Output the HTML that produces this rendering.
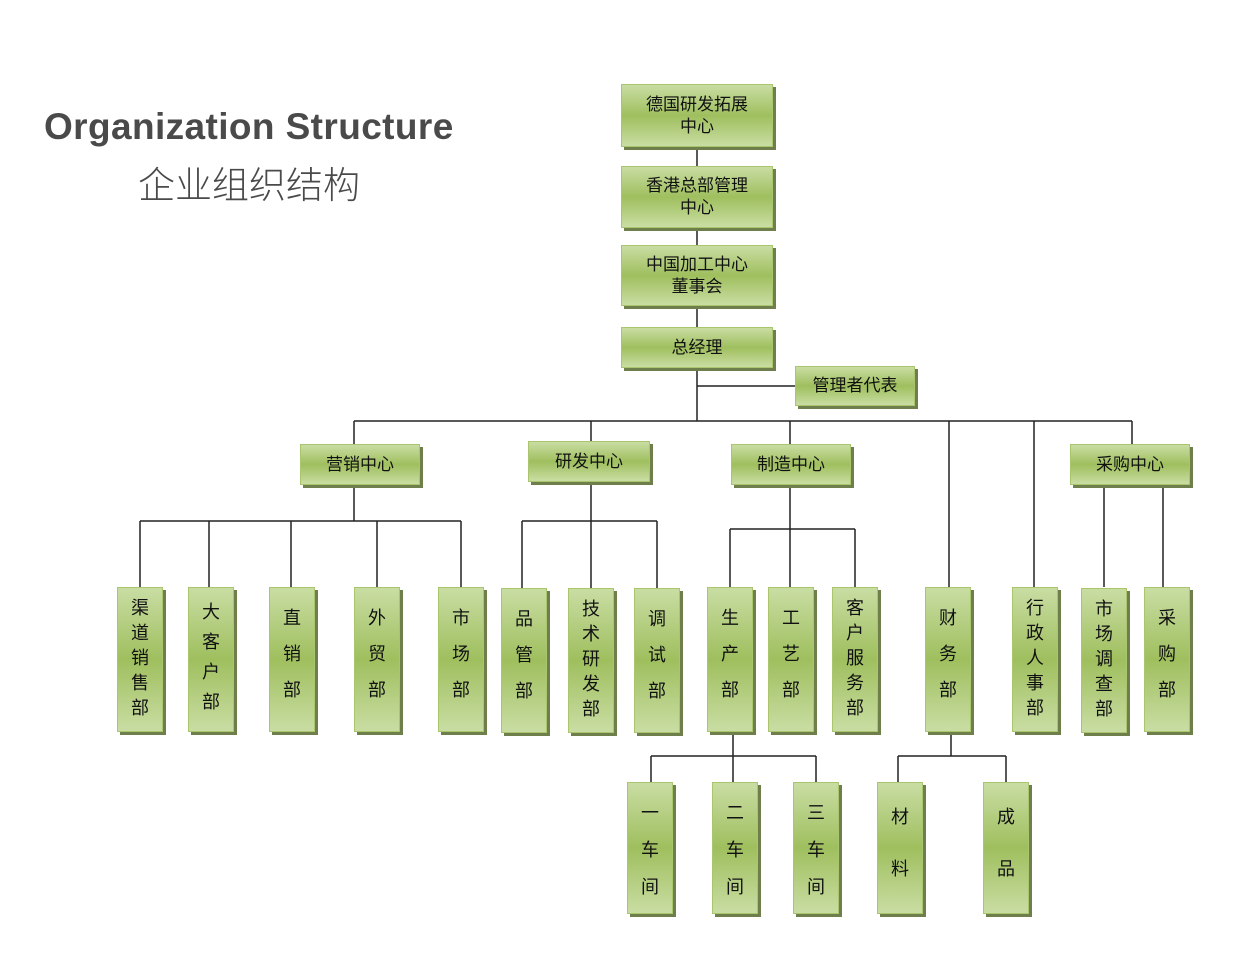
<!DOCTYPE html>
<html><head><meta charset="utf-8"><style>
body{margin:0;background:#fff;}
#c{position:relative;width:1256px;height:970px;overflow:hidden;font-family:"Liberation Sans","Noto Sans CJK SC",sans-serif;}
.b{position:absolute;box-sizing:border-box;background:linear-gradient(#c9dda3,#9fbf5e 50%,#c9dda3);border:1px solid #a9c66e;box-shadow:3px 3px 0 #6f7f4c;color:#111;font-size:17px;display:flex;align-items:center;justify-content:center;text-align:center;line-height:22px;}
.v{flex-direction:column;justify-content:flex-start;font-size:18px;line-height:20px;}
.v3{padding-top:20px;gap:16px;}
.v4{padding-top:14px;gap:10px;}
.v5{padding-top:10px;gap:5px;}
.vb{padding-top:20px;gap:17px;}
.v2{padding-top:24px;gap:32px;}
svg{position:absolute;left:0;top:0;}
.t1{position:absolute;left:44px;top:106px;font-size:37px;font-weight:bold;color:#4a4a4a;font-family:"Liberation Sans",sans-serif;letter-spacing:0.4px;}
.t2{position:absolute;left:138px;top:160px;font-size:37px;color:#4a4a4a;font-family:"Noto Sans CJK SC",sans-serif;font-weight:300;line-height:44px;}
</style></head><body><div id="c">
<div class="t1">Organization Structure</div>
<div class="t2">企业组织结构</div>
<svg width="1256" height="970" stroke="#222" stroke-width="1.5" fill="none">
<path d="M697 147V166M697 228V245M697 306V327M697 368V421M697 386H795"/>
<path d="M354 421H1132M354 421V444M591 421V441M790 421V444M949 421V587M1034 421V587M1132 421V444"/>
<path d="M354 485V521M140 521H461M140 521V587M209 521V587M291 521V587M377 521V587M461 521V587"/>
<path d="M591 482V588M522 521H657M522 521V588M657 521V588"/>
<path d="M790 485V587M730 529H855M730 529V587M855 529V587"/>
<path d="M1104 485V587M1163 485V587"/>
<path d="M733 732V782M651 756H816M651 756V782M816 756V782"/>
<path d="M951 732V756M898 756H1006M898 756V782M1006 756V782"/>
</svg>
<div class="b" style="left:621px;top:84px;width:152px;height:63px">德国研发拓展<br>中心</div>
<div class="b" style="left:621px;top:166px;width:152px;height:62px">香港总部管理<br>中心</div>
<div class="b" style="left:621px;top:245px;width:152px;height:61px">中国加工中心<br>董事会</div>
<div class="b" style="left:621px;top:327px;width:152px;height:41px">总经理</div>
<div class="b" style="left:795px;top:366px;width:120px;height:40px">管理者代表</div>
<div class="b" style="left:300px;top:444px;width:120px;height:41px">营销中心</div>
<div class="b" style="left:528px;top:441px;width:122px;height:41px">研发中心</div>
<div class="b" style="left:731px;top:444px;width:120px;height:41px">制造中心</div>
<div class="b" style="left:1070px;top:444px;width:120px;height:41px">采购中心</div>

<div class="b v v5" style="left:117px;top:587px;width:46px;height:145px"><span>渠</span><span>道</span><span>销</span><span>售</span><span>部</span></div>
<div class="b v v4" style="left:188px;top:587px;width:46px;height:145px"><span>大</span><span>客</span><span>户</span><span>部</span></div>
<div class="b v v3" style="left:269px;top:587px;width:46px;height:145px"><span>直</span><span>销</span><span>部</span></div>
<div class="b v v3" style="left:354px;top:587px;width:46px;height:145px"><span>外</span><span>贸</span><span>部</span></div>
<div class="b v v3" style="left:438px;top:587px;width:46px;height:145px"><span>市</span><span>场</span><span>部</span></div>
<div class="b v v3" style="left:501px;top:588px;width:46px;height:145px"><span>品</span><span>管</span><span>部</span></div>
<div class="b v v5" style="left:568px;top:588px;width:46px;height:145px"><span>技</span><span>术</span><span>研</span><span>发</span><span>部</span></div>
<div class="b v v3" style="left:634px;top:588px;width:46px;height:145px"><span>调</span><span>试</span><span>部</span></div>
<div class="b v v3" style="left:707px;top:587px;width:46px;height:145px"><span>生</span><span>产</span><span>部</span></div>
<div class="b v v3" style="left:768px;top:587px;width:46px;height:145px"><span>工</span><span>艺</span><span>部</span></div>
<div class="b v v5" style="left:832px;top:587px;width:46px;height:145px"><span>客</span><span>户</span><span>服</span><span>务</span><span>部</span></div>
<div class="b v v3" style="left:925px;top:587px;width:46px;height:145px"><span>财</span><span>务</span><span>部</span></div>
<div class="b v v5" style="left:1012px;top:587px;width:46px;height:145px"><span>行</span><span>政</span><span>人</span><span>事</span><span>部</span></div>
<div class="b v v5" style="left:1081px;top:588px;width:46px;height:145px"><span>市</span><span>场</span><span>调</span><span>查</span><span>部</span></div>
<div class="b v v3" style="left:1144px;top:587px;width:46px;height:145px"><span>采</span><span>购</span><span>部</span></div>

<div class="b v vb" style="left:627px;top:782px;width:46px;height:132px"><span>一</span><span>车</span><span>间</span></div>
<div class="b v vb" style="left:712px;top:782px;width:46px;height:132px"><span>二</span><span>车</span><span>间</span></div>
<div class="b v vb" style="left:793px;top:782px;width:46px;height:132px"><span>三</span><span>车</span><span>间</span></div>
<div class="b v v2" style="left:877px;top:782px;width:46px;height:132px"><span>材</span><span>料</span></div>
<div class="b v v2" style="left:983px;top:782px;width:46px;height:132px"><span>成</span><span>品</span></div>
</div></body></html>
